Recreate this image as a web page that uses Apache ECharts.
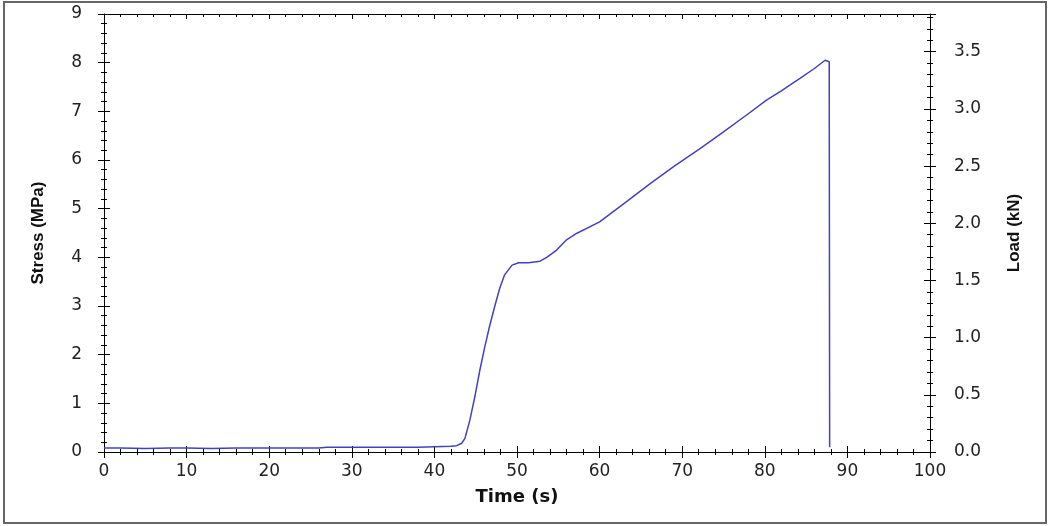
<!DOCTYPE html>
<html>
<head>
<meta charset="utf-8">
<script src="https://cdn.jsdelivr.net/npm/echarts@6/dist/echarts.min.js"></script>
<style>
html,body{margin:0;padding:0;background:#fff;}
#chart{width:1049px;height:526px;}
</style>
</head>
<body>
<div id="chart"></div>
<script>
// Data
const timeS = [0, 2, 5, 8, 10, 13, 16, 20, 24, 26, 27, 30, 34, 38, 40, 42, 42.7, 43.3, 43.7, 44.3, 44.9, 45.5, 46.1, 46.7, 47.3, 47.9, 48.5, 49.4, 50.2, 51.4, 52.8, 53.6, 54.8, 56.0, 57.2, 60.0, 63.3, 66, 69, 72.2, 75, 78, 80.2, 82, 84.3, 86, 87.3, 87.8, 87.85];
const stressMPa = [0.08, 0.08, 0.07, 0.08, 0.08, 0.07, 0.08, 0.08, 0.08, 0.08, 0.1, 0.1, 0.1, 0.1, 0.11, 0.12, 0.13, 0.18, 0.28, 0.66, 1.14, 1.68, 2.16, 2.6, 2.99, 3.36, 3.64, 3.84, 3.89, 3.89, 3.92, 4.0, 4.15, 4.36, 4.49, 4.73, 5.15, 5.5, 5.87, 6.24, 6.58, 6.95, 7.23, 7.42, 7.68, 7.88, 8.05, 8.02, 0.1];
const xTicks = [0, 10, 20, 30, 40, 50, 60, 70, 80, 90, 100];
const stressTicks = [0, 1, 2, 3, 4, 5, 6, 7, 8, 9];
const loadTicks = ['0.0', '0.5', '1.0', '1.5', '2.0', '2.5', '3.0', '3.5'];
const loadMax = 3.83;

const points = timeS.map((t, i) => [t, stressMPa[i]]);

const chart = echarts.init(document.getElementById('chart'));
const lineStyle = { color: '#000', width: 1 };
const tickFont = { fontFamily: 'DejaVu Sans', fontSize: 17, color: '#222' };

function xAx(extra) {
  return Object.assign({
    type: 'value', min: xTicks[0], max: xTicks[xTicks.length - 1], interval: 10,
    axisLine: { show: true, onZero: false, lineStyle }, splitLine: { show: false },
    axisTick: { show: true, length: 6, lineStyle },
    minorTick: { show: true, splitNumber: 5, length: 3, lineStyle },
    axisLabel: { show: false }
  }, extra);
}
function yAx(extra) {
  return Object.assign({
    type: 'value',
    axisLine: { show: true, onZero: false, lineStyle }, splitLine: { show: false },
    axisTick: { show: true, length: 6, lineStyle },
    minorTick: { show: true, splitNumber: 5, length: 3, lineStyle },
    axisLabel: { show: false }
  }, extra);
}

chart.setOption({
  animation: false,
  backgroundColor: '#fff',
  grid: { left: 104, right: 119, top: 14, bottom: 74, containLabel: false },
  graphic: [{
    type: 'rect', shape: { x: 4, y: 2, width: 1042, height: 521 },
    style: { fill: 'none', stroke: '#666', lineWidth: 2 }, silent: true, z: 100
  }],
  xAxis: [
    xAx({
      position: 'bottom',
      name: 'Time (s)', nameLocation: 'middle', nameGap: 36,
      nameTextStyle: { fontFamily: 'DejaVu Sans', fontWeight: 'bold', fontSize: 18, color: '#111' },
      axisLabel: Object.assign({ show: true, margin: 11 }, tickFont)
    }),
    xAx({ position: 'bottom', axisLine: { show: false, onZero: false }, axisTick: { show: true, inside: true, length: 6, lineStyle } }),
    xAx({ position: 'top', axisTick: { show: true, inside: true, length: 5, lineStyle }, minorTick: { show: true, splitNumber: 5, length: 3, lineStyle } })
  ],
  yAxis: [
    yAx({
      position: 'left', min: stressTicks[0], max: stressTicks[stressTicks.length - 1], interval: 1,
      name: 'Stress (MPa)', nameLocation: 'middle', nameGap: 57, nameRotate: 90,
      nameTextStyle: { fontFamily: 'Liberation Sans', fontWeight: 'bold', fontSize: 17, color: '#111' },
      axisLabel: Object.assign({ show: true, margin: 22 }, tickFont)
    }),
    yAx({ position: 'left', min: 0, max: 9, interval: 1, axisLine: { show: false, onZero: false }, axisTick: { show: true, inside: true, length: 6, lineStyle } }),
    yAx({
      position: 'right', min: 0, max: loadMax, interval: 0.5,
      name: 'Load (kN)', nameLocation: 'middle', nameGap: 76, nameRotate: 90,
      nameTextStyle: { fontFamily: 'Liberation Sans', fontWeight: 'bold', fontSize: 17, color: '#111' },
      axisLabel: Object.assign({
        show: true, margin: 24, showMaxLabel: false,
        formatter: v => { const i = Math.round(v / 0.5); return Math.abs(v - i * 0.5) < 1e-6 && loadTicks[i] ? loadTicks[i] : ''; }
      }, tickFont)
    }),
    yAx({ position: 'right', min: 0, max: loadMax, interval: 0.5, axisLine: { show: false, onZero: false }, axisTick: { show: true, inside: true, length: 6, lineStyle } })
  ],
  series: [{
    type: 'line', xAxisIndex: 0, yAxisIndex: 0,
    data: points, showSymbol: false, smooth: false,
    lineStyle: { color: '#4242c0', width: 1.5 }
  }]
});
</script>
</body>
</html>
